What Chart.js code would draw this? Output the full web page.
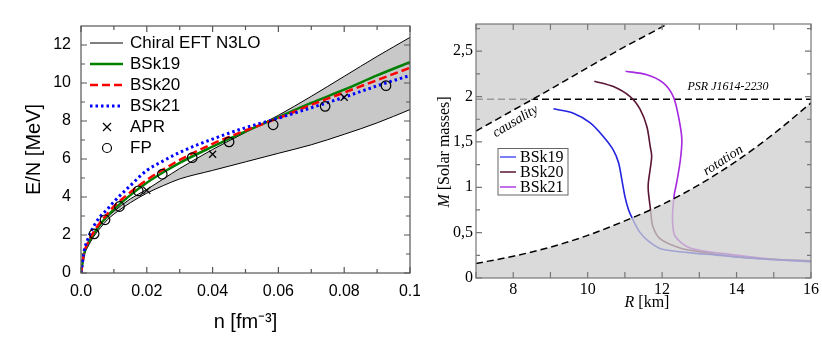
<!DOCTYPE html>
<html>
<head>
<meta charset="utf-8">
<script src="https://cdn.jsdelivr.net/npm/chart.js@4.4.1/dist/chart.umd.min.js"></script>
<style>
  body { margin: 0; background: #fff; }
  #wrap { position: relative; width: 822px; height: 344px; }
  #eosChart { position: absolute; left: 0; top: 0; }
  #mrChart { position: absolute; left: 420px; top: 0; }
</style>
</head>
<body>
<div id="wrap">
  <canvas id="eosChart" width="420" height="344" style="width:420px;height:344px"></canvas>
  <canvas id="mrChart" width="402" height="344" style="width:402px;height:344px"></canvas>
</div>
<script>
// ---- left panel: energy per neutron vs density ----
const nGrid = [0, 0.001, 0.002, 0.004, 0.006, 0.008, 0.01, 0.015, 0.02, 0.025, 0.03, 0.04, 0.05, 0.06, 0.07, 0.08, 0.09, 0.1];
const chiralUpper = [0, 1.0, 1.45, 2.05, 2.55, 2.95, 3.25, 3.9, 4.4, 4.95, 5.5, 6.5, 7.4, 8.3, 9.3, 10.35, 11.4, 12.4];
const chiralLower = [0, 0.95, 1.35, 1.95, 2.4, 2.8, 3.1, 3.7, 4.2, 4.6, 4.95, 5.4, 5.85, 6.3, 6.75, 7.3, 7.9, 8.6];
const bsk19E = [0, 1.05, 1.5, 2.1, 2.6, 3.0, 3.35, 4.1, 4.75, 5.3, 5.8, 6.65, 7.45, 8.2, 8.95, 9.65, 10.4, 11.1];
const bsk20E = [0, 1.1, 1.55, 2.2, 2.7, 3.1, 3.5, 4.25, 4.9, 5.45, 5.95, 6.8, 7.5, 8.15, 8.85, 9.5, 10.15, 10.8];
const bsk21E = [0, 1.2, 1.75, 2.5, 3.0, 3.35, 3.75, 4.6, 5.4, 5.9, 6.35, 7.05, 7.65, 8.15, 8.7, 9.25, 9.85, 10.4];
const aprN = [0.02, 0.04, 0.08];
const aprE = [4.35, 6.25, 9.25];
const fpN = [0.004, 0.0073, 0.0117, 0.0174, 0.0247, 0.0338, 0.045, 0.0584, 0.0742, 0.0927];
const fpE = [2.06, 2.8, 3.5, 4.32, 5.2, 6.07, 6.9, 7.8, 8.77, 9.86];
const nTicks = [0, 0.02, 0.04, 0.06, 0.08, 0.1];
const nTickLabels = ["0.0", "0.02", "0.04", "0.06", "0.08", "0.1"];
const eTicks = [0, 2, 4, 6, 8, 10, 12];

// ---- right panel: mass-radius ----
const bsk19R = [9.08, 9.6, 10.07, 10.42, 10.69, 10.83, 10.92, 11.0, 11.1, 11.22, 11.41, 11.65, 11.98, 12.7, 13.4, 14.7, 16];
const bsk19M = [1.865, 1.82, 1.71, 1.56, 1.41, 1.27, 1.08, 0.9, 0.75, 0.64, 0.5, 0.4, 0.32, 0.28, 0.255, 0.21, 0.18];
const bsk20R = [10.18, 10.69, 11.14, 11.41, 11.59, 11.68, 11.72, 11.63, 11.63, 11.69, 11.75, 11.95, 12.48, 13.0, 13.82, 14.8, 16];
const bsk20M = [2.17, 2.11, 2.0, 1.86, 1.67, 1.45, 1.34, 1.05, 0.955, 0.75, 0.57, 0.43, 0.33, 0.29, 0.24, 0.21, 0.19];
const bsk21R = [11.02, 11.59, 12.03, 12.3, 12.44, 12.53, 12.49, 12.39, 12.32, 12.28, 12.35, 12.75, 13.82, 15.17, 16];
const bsk21M = [2.28, 2.24, 2.15, 2.0, 1.78, 1.53, 1.3, 1.05, 0.9, 0.64, 0.46, 0.33, 0.26, 0.2, 0.19];
const causalityR = [7, 8, 9, 10, 11, 12.15];
const causalityM = [1.62, 1.85, 2.08, 2.32, 2.55, 2.8];
const rotationR = [7, 8, 9, 10, 11, 12, 13, 14, 15, 16];
const rotationM = [0.16, 0.24, 0.34, 0.47, 0.63, 0.81, 1.03, 1.29, 1.59, 1.93];
const psrR = [7, 16];
const psrM = [1.97, 1.97];
const rTicks = [8, 10, 12, 14, 16];
const mTicks = [0, 0.5, 1, 1.5, 2, 2.5];
const mTickLabels = ["0", "0,5", "1", "1,5", "2", "2,5"];

function pts(xs, ys) {
  return xs.map((x, i) => ({ x: x, y: ys[i] }));
}

// box round the plot with inward tick marks on all four sides
function frameTicks(id, color, xMajor, xMinor, yMajor, yMinor) {
  return {
    id: id,
    afterDatasetsDraw(chart) {
      const { ctx, chartArea: a, scales } = chart;
      const x = scales.x, y = scales.y;
      ctx.save();
      ctx.strokeStyle = color;
      ctx.lineWidth = 1.2;
      ctx.strokeRect(a.left, a.top, a.right - a.left, a.bottom - a.top);
      ctx.beginPath();
      const tickX = (v, len) => {
        const p = x.getPixelForValue(v);
        ctx.moveTo(p, a.bottom); ctx.lineTo(p, a.bottom - len);
        ctx.moveTo(p, a.top); ctx.lineTo(p, a.top + len);
      };
      const tickY = (v, len) => {
        const p = y.getPixelForValue(v);
        ctx.moveTo(a.left, p); ctx.lineTo(a.left + len, p);
        ctx.moveTo(a.right, p); ctx.lineTo(a.right - len, p);
      };
      xMajor.forEach(v => tickX(v, 6));
      xMinor.forEach(v => tickX(v, 4));
      yMajor.forEach(v => tickY(v, 6));
      yMinor.forEach(v => tickY(v, 4));
      ctx.stroke();
      ctx.restore();
    }
  };
}

// left legend (lines and markers, no frame)
const eosLegendItems = [
  { label: "Chiral EFT N3LO", kind: "line", color: "#000", width: 1, dash: [] },
  { label: "BSk19", kind: "line", color: "#008000", width: 2.5, dash: [] },
  { label: "BSk20", kind: "line", color: "#ff0000", width: 2.5, dash: [8, 4] },
  { label: "BSk21", kind: "line", color: "#0000ff", width: 3, dash: [2.5, 3] },
  { label: "APR", kind: "cross" },
  { label: "FP", kind: "circle" }
];
const eosLegend = {
  id: "eosLegend",
  afterDatasetsDraw(chart) {
    const ctx = chart.ctx;
    ctx.save();
    ctx.font = "17px 'Liberation Sans', Arial, sans-serif";
    ctx.textBaseline = "middle";
    ctx.fillStyle = "#000";
    eosLegendItems.forEach((it, i) => {
      const yy = 43 + i * 21;
      ctx.setLineDash([]);
      if (it.kind === "line") {
        ctx.strokeStyle = it.color;
        ctx.lineWidth = it.width;
        ctx.setLineDash(it.dash);
        ctx.beginPath(); ctx.moveTo(90, yy); ctx.lineTo(123, yy); ctx.stroke();
      } else if (it.kind === "cross") {
        ctx.strokeStyle = "#000"; ctx.lineWidth = 1.2;
        ctx.beginPath();
        ctx.moveTo(103, yy - 4); ctx.lineTo(111, yy + 4);
        ctx.moveTo(111, yy - 4); ctx.lineTo(103, yy + 4);
        ctx.stroke();
      } else {
        ctx.strokeStyle = "#000"; ctx.lineWidth = 1.2;
        ctx.beginPath(); ctx.arc(107, yy, 4.5, 0, Math.PI * 2); ctx.stroke();
      }
      ctx.fillText(it.label, 130, yy);
    });
    ctx.restore();
  }
};

const evenHund = [];
for (let v = 0.01; v < 0.1; v += 0.02) evenHund.push(v);
const oddE = [1, 3, 5, 7, 9, 11];

const lineBase = { pointRadius: 0, fill: false, cubicInterpolationMode: "monotone" };

new Chart(document.getElementById("eosChart").getContext("2d"), {
  type: "line",
  data: {
    datasets: [
      Object.assign({}, lineBase, {
        label: "Chiral EFT N3LO",
        data: pts(nGrid, chiralUpper),
        borderColor: "#000", borderWidth: 1,
        fill: "+1", backgroundColor: "#c8c8c8",
        order: 10
      }),
      Object.assign({}, lineBase, {
        label: "Chiral EFT N3LO (lower)",
        data: pts(nGrid, chiralLower),
        borderColor: "#000", borderWidth: 1,
        order: 9
      }),
      Object.assign({}, lineBase, {
        label: "BSk19",
        data: pts(nGrid, bsk19E),
        borderColor: "#008000", borderWidth: 2.5,
        order: 4
      }),
      Object.assign({}, lineBase, {
        label: "BSk20",
        data: pts(nGrid, bsk20E),
        borderColor: "#ff0000", borderWidth: 2.5, borderDash: [8, 4],
        order: 3
      }),
      Object.assign({}, lineBase, {
        label: "BSk21",
        data: pts(nGrid, bsk21E),
        borderColor: "#0000ff", borderWidth: 3, borderDash: [2.5, 3],
        order: 2
      }),
      {
        label: "APR",
        data: pts(aprN, aprE),
        showLine: false,
        pointStyle: "crossRot", pointRadius: 5,
        borderColor: "#000", pointBorderWidth: 1.2,
        order: 1
      },
      {
        label: "FP",
        data: pts(fpN, fpE),
        showLine: false,
        pointStyle: "circle", pointRadius: 4.8,
        backgroundColor: "rgba(0,0,0,0)",
        borderColor: "#000", pointBorderWidth: 1.2,
        order: 1
      }
    ]
  },
  options: {
    responsive: false,
    animation: false,
    layout: { padding: { top: 26, right: 10, left: 0, bottom: 0 } },
    plugins: { legend: { display: false }, tooltip: { enabled: false } },
    scales: {
      x: {
        type: "linear", min: 0, max: 0.1,
        grid: { display: false, drawTicks: false },
        border: { display: false },
        afterBuildTicks: s => { s.ticks = nTicks.map(v => ({ value: v })); },
        afterFit: s => { s.height = 71; s.paddingLeft = 0; s.paddingRight = 0; },
        ticks: {
          padding: 9, color: "#000", maxRotation: 0,
          font: { family: "'Liberation Sans', Arial, sans-serif", size: 16 },
          callback: (v, i) => nTickLabels[i]
        },
        title: {
          display: true, text: "n [fm\u207B\u00B3]", color: "#000",
          font: { family: "'Liberation Sans', Arial, sans-serif", size: 20 },
          padding: { top: 0, bottom: 10 }
        }
      },
      y: {
        type: "linear", min: 0, max: 13,
        grid: { display: false, drawTicks: false },
        border: { display: false },
        afterBuildTicks: s => { s.ticks = eTicks.map(v => ({ value: v })); },
        afterFit: s => { s.width = 81; s.paddingTop = 0; s.paddingBottom = 0; },
        ticks: {
          padding: 10, color: "#000",
          font: { family: "'Liberation Sans', Arial, sans-serif", size: 16 }
        },
        title: {
          display: true, text: "E/N [MeV]", color: "#000",
          font: { family: "'Liberation Sans', Arial, sans-serif", size: 20 },
          padding: { top: 22, bottom: 0 }
        }
      }
    }
  },
  plugins: [frameTicks("eosFrame", "#555", nTicks, evenHund, eTicks, oddE), eosLegend]
});

// ---- right panel ----
const mrLegendItems = [
  { label: "BSk19", color: "#5050f0" },
  { label: "BSk20", color: "#5a1434" },
  { label: "BSk21", color: "#b040e0" }
];
const serif = "'Liberation Serif', 'Times New Roman', serif";
const mrDecor = {
  id: "mrDecor",
  afterDatasetsDraw(chart) {
    const { ctx, scales: { x, y } } = chart;
    ctx.save();
    // legend box
    ctx.fillStyle = "#fff";
    ctx.fillRect(78, 148.5, 70, 46.5);
    ctx.strokeStyle = "#666"; ctx.lineWidth = 1;
    ctx.strokeRect(78, 148.5, 70, 46.5);
    ctx.font = "16px " + serif;
    ctx.textBaseline = "middle";
    mrLegendItems.forEach((it, i) => {
      const yy = 157 + i * 15;
      ctx.strokeStyle = it.color; ctx.lineWidth = 1.5;
      ctx.beginPath(); ctx.moveTo(80, yy); ctx.lineTo(96, yy); ctx.stroke();
      ctx.fillStyle = "#000";
      ctx.fillText(it.label, 100, yy + 1);
    });
    // annotations
    ctx.fillStyle = "#000";
    ctx.textAlign = "center";
    ctx.font = "italic 12px " + serif;
    ctx.fillText("PSR J1614-2230", x.getPixelForValue(13.77), y.getPixelForValue(2.107));
    ctx.font = "italic 14px " + serif;
    ctx.save();
    ctx.translate(x.getPixelForValue(8.06), y.getPixelForValue(1.727));
    ctx.rotate(-31 * Math.PI / 180);
    ctx.fillText("causality", 0, 0);
    ctx.restore();
    ctx.save();
    ctx.translate(x.getPixelForValue(13.64), y.getPixelForValue(1.296));
    ctx.rotate(-33 * Math.PI / 180);
    ctx.fillText("rotation", 0, 0);
    ctx.restore();
    // axis titles with italic symbols
    ctx.font = "16px " + serif;
    ctx.textAlign = "left";
    const drawTitle = (sym, rest, cx, cy, rot) => {
      ctx.save();
      ctx.translate(cx, cy);
      ctx.rotate(rot);
      ctx.font = "italic 16px " + serif;
      const w1 = ctx.measureText(sym).width;
      ctx.font = "16px " + serif;
      const w2 = ctx.measureText(rest).width;
      const x0 = -(w1 + w2) / 2;
      ctx.font = "italic 16px " + serif;
      ctx.fillText(sym, x0, 0);
      ctx.font = "16px " + serif;
      ctx.fillText(rest, x0 + w1, 0);
      ctx.restore();
    };
    drawTitle("R", " [km]", 227, 303, 0);
    drawTitle("M", " [Solar masses]", 25, 152, -Math.PI / 2);
    ctx.restore();
  }
};

const kmTicks = [];
for (let v = 7; v <= 16; v++) kmTicks.push(v);
const quarterM = [0.25, 0.75, 1.25, 1.75, 2.25, 2.75];
const gray = "rgba(205,205,205,0.75)";

new Chart(document.getElementById("mrChart").getContext("2d"), {
  type: "line",
  data: {
    datasets: [
      {
        label: "PSR J1614-2230",
        data: pts(psrR, psrM),
        borderColor: "#000", borderWidth: 1.5, borderDash: [7, 4],
        pointRadius: 0, fill: false, order: 10
      },
      {
        label: "BSk19",
        data: pts(bsk19R, bsk19M),
        borderColor: "#2323e0", borderWidth: 1.6,
        pointRadius: 0, fill: false, tension: 0.3, order: 5
      },
      {
        label: "BSk20",
        data: pts(bsk20R, bsk20M),
        borderColor: "#5a1434", borderWidth: 1.6,
        pointRadius: 0, fill: false, tension: 0.3, order: 5
      },
      {
        label: "BSk21",
        data: pts(bsk21R, bsk21M),
        borderColor: "#a628e0", borderWidth: 1.6,
        pointRadius: 0, fill: false, tension: 0.3, order: 5
      },
      {
        label: "causality",
        data: pts(causalityR, causalityM),
        borderColor: "#000", borderWidth: 1.5, borderDash: [7, 4],
        pointRadius: 0, fill: "end", backgroundColor: gray, order: 1
      },
      {
        label: "rotation",
        data: pts(rotationR, rotationM),
        borderColor: "#000", borderWidth: 1.5, borderDash: [7, 4],
        pointRadius: 0, fill: "start", backgroundColor: gray,
        cubicInterpolationMode: "monotone", order: 1
      }
    ]
  },
  options: {
    responsive: false,
    animation: false,
    layout: { padding: { top: 24, right: 11, left: 0, bottom: 0 } },
    plugins: { legend: { display: false }, tooltip: { enabled: false } },
    scales: {
      x: {
        type: "linear", min: 7, max: 16,
        grid: { display: false, drawTicks: false },
        border: { display: false },
        afterBuildTicks: s => { s.ticks = rTicks.map(v => ({ value: v })); },
        afterFit: s => { s.height = 66; s.paddingLeft = 0; s.paddingRight = 0; },
        ticks: {
          padding: 2, color: "#000", maxRotation: 0,
          font: { family: serif, size: 16 }
        }
      },
      y: {
        type: "linear", min: 0, max: 2.8,
        grid: { display: false, drawTicks: false },
        border: { display: false },
        afterBuildTicks: s => { s.ticks = mTicks.map(v => ({ value: v })); },
        afterFit: s => { s.width = 56; s.paddingTop = 0; s.paddingBottom = 0; },
        ticks: {
          padding: 3, color: "#000",
          font: { family: serif, size: 16 },
          callback: (v, i) => mTickLabels[i]
        }
      }
    }
  },
  plugins: [frameTicks("mrFrame", "#777", kmTicks, [], mTicks, quarterM), mrDecor]
});
</script>
</body>
</html>
